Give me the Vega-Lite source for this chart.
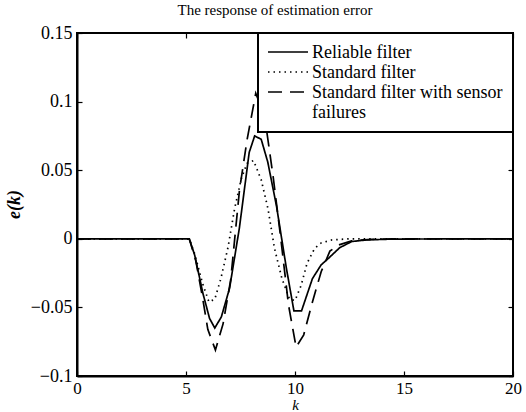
{
  "$schema": "https://vega.github.io/schema/vega-lite/v6.json",
  "autosize": "none",
  "width": 436,
  "height": 343,
  "padding": {"left": 77, "top": 33, "right": 13, "bottom": 36},
  "background": "white",
  "config": {
    "view": {"stroke": "black", "strokeWidth": 2},
    "axis": {
      "grid": false, "domainColor": "black", "domainWidth": 2,
      "tickColor": "black", "tickWidth": 1.2, "tickSize": -5,
      "labelFont": "Liberation Serif, Times New Roman, serif", "labelFontSize": 18, "labelColor": "black",
      "titleFont": "Liberation Serif, Times New Roman, serif", "titleColor": "black"
    }
  },
  "title": {"text": "The response of estimation error", "font": "Liberation Serif, Times New Roman, serif", "fontSize": 15, "fontWeight": "normal", "color": "black", "offset": 6, "dx": -20},
  "data": {"values": [
    {"k":0,"e":0,"s":"Reliable filter"},{"k":5.15,"e":0,"s":"Reliable filter"},{"k":5.4,"e":-0.012,"s":"Reliable filter"},{"k":5.78,"e":-0.04,"s":"Reliable filter"},{"k":6.08,"e":-0.058,"s":"Reliable filter"},{"k":6.32,"e":-0.065,"s":"Reliable filter"},{"k":6.62,"e":-0.057,"s":"Reliable filter"},{"k":7.0,"e":-0.036,"s":"Reliable filter"},{"k":7.45,"e":0.008,"s":"Reliable filter"},{"k":7.9,"e":0.063,"s":"Reliable filter"},{"k":8.15,"e":0.075,"s":"Reliable filter"},{"k":8.45,"e":0.0725,"s":"Reliable filter"},{"k":8.75,"e":0.056,"s":"Reliable filter"},{"k":9.15,"e":0.024,"s":"Reliable filter"},{"k":9.6,"e":-0.021,"s":"Reliable filter"},{"k":9.95,"e":-0.0525,"s":"Reliable filter"},{"k":10.3,"e":-0.0525,"s":"Reliable filter"},{"k":10.8,"e":-0.029,"s":"Reliable filter"},{"k":11.2,"e":-0.019,"s":"Reliable filter"},{"k":11.55,"e":-0.014,"s":"Reliable filter"},{"k":12.05,"e":-0.0065,"s":"Reliable filter"},{"k":12.6,"e":-0.002,"s":"Reliable filter"},{"k":13.3,"e":-0.0008,"s":"Reliable filter"},{"k":14.5,"e":-0.0002,"s":"Reliable filter"},{"k":20,"e":0,"s":"Reliable filter"},
    {"k":0,"e":0,"s":"Standard filter"},{"k":5.15,"e":0,"s":"Standard filter"},{"k":5.4,"e":-0.011,"s":"Standard filter"},{"k":5.75,"e":-0.032,"s":"Standard filter"},{"k":6.05,"e":-0.046,"s":"Standard filter"},{"k":6.32,"e":-0.044,"s":"Standard filter"},{"k":6.6,"e":-0.029,"s":"Standard filter"},{"k":6.93,"e":-0.006,"s":"Standard filter"},{"k":7.23,"e":0.022,"s":"Standard filter"},{"k":7.54,"e":0.044,"s":"Standard filter"},{"k":7.8,"e":0.055,"s":"Standard filter"},{"k":8.1,"e":0.057,"s":"Standard filter"},{"k":8.45,"e":0.043,"s":"Standard filter"},{"k":8.76,"e":0.022,"s":"Standard filter"},{"k":9.06,"e":-0.007,"s":"Standard filter"},{"k":9.4,"e":-0.029,"s":"Standard filter"},{"k":9.75,"e":-0.044,"s":"Standard filter"},{"k":10.0,"e":-0.045,"s":"Standard filter"},{"k":10.28,"e":-0.034,"s":"Standard filter"},{"k":10.55,"e":-0.018,"s":"Standard filter"},{"k":10.9,"e":-0.007,"s":"Standard filter"},{"k":11.2,"e":-0.003,"s":"Standard filter"},{"k":11.7,"e":-0.0008,"s":"Standard filter"},{"k":12.5,"e":0,"s":"Standard filter"},{"k":20,"e":0,"s":"Standard filter"},
    {"k":0,"e":0,"s":"Standard filter with sensor failures"},{"k":5.15,"e":0,"s":"Standard filter with sensor failures"},{"k":5.45,"e":-0.016,"s":"Standard filter with sensor failures"},{"k":5.75,"e":-0.042,"s":"Standard filter with sensor failures"},{"k":6.0,"e":-0.066,"s":"Standard filter with sensor failures"},{"k":6.35,"e":-0.081,"s":"Standard filter with sensor failures"},{"k":6.7,"e":-0.062,"s":"Standard filter with sensor failures"},{"k":7.05,"e":-0.03,"s":"Standard filter with sensor failures"},{"k":7.45,"e":0.035,"s":"Standard filter with sensor failures"},{"k":7.8,"e":0.072,"s":"Standard filter with sensor failures"},{"k":8.2,"e":0.106,"s":"Standard filter with sensor failures"},{"k":8.6,"e":0.09,"s":"Standard filter with sensor failures"},{"k":9.0,"e":0.045,"s":"Standard filter with sensor failures"},{"k":9.35,"e":0.0,"s":"Standard filter with sensor failures"},{"k":9.7,"e":-0.048,"s":"Standard filter with sensor failures"},{"k":10.05,"e":-0.079,"s":"Standard filter with sensor failures"},{"k":10.4,"e":-0.07,"s":"Standard filter with sensor failures"},{"k":10.8,"e":-0.046,"s":"Standard filter with sensor failures"},{"k":11.2,"e":-0.024,"s":"Standard filter with sensor failures"},{"k":11.6,"e":-0.009,"s":"Standard filter with sensor failures"},{"k":12.0,"e":-0.0045,"s":"Standard filter with sensor failures"},{"k":12.6,"e":-0.0015,"s":"Standard filter with sensor failures"},{"k":13.5,"e":-0.0004,"s":"Standard filter with sensor failures"},{"k":15,"e":0,"s":"Standard filter with sensor failures"},{"k":20,"e":0,"s":"Standard filter with sensor failures"}
  ]},
  "layer": [
    {
      "mark": {"type": "line", "color": "black", "strokeWidth": 1.7, "strokeCap": "butt"},
      "encoding": {
        "x": {"field": "k", "type": "quantitative", "scale": {"domain": [0, 20], "nice": false},
              "axis": {"values": [0, 5, 10, 15, 20], "title": "k", "titleFontStyle": "italic", "titleFontWeight": "normal", "titleFontSize": 15, "labelFontSize": 17, "labelPadding": 9, "titleX": 218, "titleY": 21, "titleBaseline": "top", "labelFlush": false}},
        "y": {"field": "e", "type": "quantitative", "scale": {"domain": [-0.1, 0.15], "nice": false, "zero": false},
              "axis": {"values": [-0.1, -0.05, 0, 0.05, 0.1, 0.15], "format": ".2~f", "title": "e(k)", "titleFontStyle": "italic", "titleFontWeight": "bold", "titleFontSize": 18, "labelPadding": 10, "titleX": -54, "titleY": 171, "labelFlush": false}},
        "strokeDash": {"field": "s", "type": "nominal",
          "scale": {"domain": ["Reliable filter", "Standard filter", "Standard filter with sensor failures"], "range": [[1, 0], [1.5, 4], [14, 8]]},
          "legend": {"orient": "none", "legendX": 181, "legendY": 0, "title": null,
            "fillColor": "white", "strokeColor": "black", "padding": 10,
            "symbolType": "M-2.5,0H2.5", "symbolSize": 256, "symbolOffset": 11, "symbolStrokeWidth": 1.7, "symbolStrokeColor": "black",
            "labelFont": "Liberation Serif, Times New Roman, serif", "labelFontSize": 18, "labelColor": "black", "labelOffset": 15, "rowPadding": 1, "labelLimit": 400, "labelLineHeight": 21,
            "labelBaseline": "alphabetic",
            "labelExpr": "datum.label == 'Standard filter with sensor failures' ? ['Standard filter with sensor', 'failures'] : datum.label",
            "encode": {"legend": {"update": {"strokeWidth": {"value": 2}}}, "labels": {"update": {"dy": {"value": 6}}}}}
        }
      }
    },
    {
      "mark": {"type": "point", "opacity": 0},
      "encoding": {
        "x": {"field": "k", "type": "quantitative", "axis": {"orient": "top", "values": [0, 5, 10, 15, 20], "labels": false, "title": null, "domain": false}},
        "y": {"field": "e", "type": "quantitative", "axis": {"orient": "right", "values": [-0.1, -0.05, 0, 0.05, 0.1, 0.15], "labels": false, "title": null, "domain": false}}
      }
    }
  ],
  "resolve": {"axis": {"x": "independent", "y": "independent"}}
}
